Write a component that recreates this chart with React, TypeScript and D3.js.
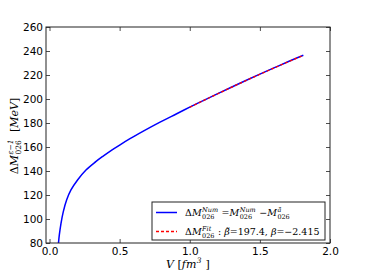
import React, { useEffect, useRef } from "react";
import * as d3 from "d3";

// numerical curve
const volume = [0.064, 0.07, 0.082, 0.098, 0.122, 0.153, 0.2, 0.26, 0.33, 0.38, 0.431, 0.503, 0.574, 0.669, 0.788, 0.907, 1.0, 1.1, 1.2, 1.3, 1.4, 1.5, 1.6, 1.7, 1.81];
const deltaM = [80, 86.7, 96.4, 106, 115.8, 124.2, 132.5, 140.8, 147.8, 152.2, 156.4, 161.8, 166.9, 173.2, 180.7, 187.7, 193.2, 198.9, 204.5, 210, 215.4, 220.7, 225.9, 231, 236.5];

// fit curve
const fitVolume = [1.0, 1.1, 1.2, 1.3, 1.4, 1.5, 1.6, 1.7, 1.81];
const fitDeltaM = [193.1, 198.8, 204.4, 209.9, 215.3, 220.6, 225.8, 230.9, 236.3];

const xTicks = [0.0, 0.5, 1.0, 1.5, 2.0];
const yTicks = [80, 100, 120, 140, 160, 180, 200, 220, 240, 260];

const W = 367, H = 273;
const margin = { top: 27, right: 37, bottom: 30, left: 46 };

type Piece = { t: string, i?: boolean, sup?: string, sub?: string };

// lay out a little piece of math text, returns its width
function drawMath( g: any, pieces: Piece[], size: number ) {
	let x = 0;
	const font = "'DejaVu Serif', 'Liberation Serif', serif";
	pieces.forEach( p => {
		const base = g.append( "text" )
			.attr( "x", x ).attr( "y", 0 )
			.attr( "font-family", font )
			.attr( "font-size", size )
			.attr( "font-style", p.i ? "italic" : "normal" )
			.attr( "fill", "#000" )
			.style( "white-space", "pre" )
			.text( p.t );
		x += ( base.node() as SVGTextElement ).getComputedTextLength();
		let w = 0;
		if ( p.sup ) {
			const s = g.append( "text" )
				.attr( "x", x + 0.5 ).attr( "y", -size * 0.42 )
				.attr( "font-family", font ).attr( "font-size", size * 0.68 )
				.attr( "font-style", "italic" ).attr( "fill", "#000" )
				.text( p.sup );
			w = Math.max( w, ( s.node() as SVGTextElement ).getComputedTextLength() );
		}
		if ( p.sub ) {
			const s = g.append( "text" )
				.attr( "x", x + 0.5 ).attr( "y", size * 0.3 )
				.attr( "font-family", font ).attr( "font-size", size * 0.68 )
				.attr( "font-style", "normal" ).attr( "fill", "#000" )
				.text( p.sub );
			w = Math.max( w, ( s.node() as SVGTextElement ).getComputedTextLength() );
		}
		x += w ? w + 1 : 0;
	});
	return x;
}

export default function App() {
	const ref = useRef<SVGSVGElement>( null );

	useEffect( () => {
		const svg = d3.select( ref.current );
		svg.selectAll( "*" ).remove();

		const width = W - margin.left - margin.right;
		const height = H - margin.top - margin.bottom;

		const x = d3.scaleLinear().domain( [ -0.025, 2.0 ] ).range( [ 0, width ] );
		const y = d3.scaleLinear().domain( [ 80, 260 ] ).range( [ height, 0 ] );

		const g = svg.append( "g" ).attr( "transform", `translate(${margin.left},${margin.top})` );

		svg.append( "defs" ).append( "clipPath" ).attr( "id", "plotclip" )
			.append( "rect" ).attr( "width", width ).attr( "height", height );

		const tickFont = "'DejaVu Sans', sans-serif";

		const styleAxis = ( a: any ) => {
			a.select( ".domain" ).remove();
			a.selectAll( "line" ).attr( "stroke", "#222" ).attr( "stroke-width", 0.8 );
			a.selectAll( "text" ).attr( "font-family", tickFont ).attr( "font-size", 10.5 ).attr( "fill", "#000" );
		};

		g.append( "g" ).attr( "transform", `translate(0,${height})` )
			.call( d3.axisBottom( x ).tickValues( xTicks ).tickFormat( d3.format( ".1f" ) ).tickSizeInner( -4 ).tickSizeOuter( 0 ).tickPadding( 5 ) )
			.call( styleAxis );
		g.append( "g" )
			.call( d3.axisTop( x ).tickValues( xTicks ).tickFormat( () => "" ).tickSizeInner( -4 ).tickSizeOuter( 0 ) )
			.call( styleAxis );
		g.append( "g" )
			.call( d3.axisLeft( y ).tickValues( yTicks ).tickFormat( d3.format( "d" ) ).tickSizeInner( -4 ).tickSizeOuter( 0 ).tickPadding( 3 ) )
			.call( styleAxis );
		g.append( "g" ).attr( "transform", `translate(${width},0)` )
			.call( d3.axisRight( y ).tickValues( yTicks ).tickFormat( () => "" ).tickSizeInner( -4 ).tickSizeOuter( 0 ) )
			.call( styleAxis );

		const line = d3.line<[number, number]>()
			.x( d => x( d[0] ) )
			.y( d => y( d[1] ) )
			.curve( d3.curveCatmullRom.alpha( 0.5 ) );

		g.append( "path" )
			.datum( volume.map( ( v, i ) => [ v, deltaM[i] ] as [number, number] ) )
			.attr( "clip-path", "url(#plotclip)" )
			.attr( "fill", "none" )
			.attr( "stroke", "#0000ff" )
			.attr( "stroke-width", 1.5 )
			.attr( "d", line );

		g.append( "path" )
			.datum( fitVolume.map( ( v, i ) => [ v, fitDeltaM[i] ] as [number, number] ) )
			.attr( "fill", "none" )
			.attr( "stroke", "#ff0000" )
			.attr( "stroke-width", 1.3 )
			.attr( "stroke-dasharray", "3,2" )
			.attr( "d", line );

		// frame
		g.append( "rect" )
			.attr( "width", width ).attr( "height", height )
			.attr( "fill", "none" ).attr( "stroke", "#222" ).attr( "stroke-width", 1 );

		// legend
		const leg = svg.append( "g" ).attr( "transform", "translate(152,202)" );
		leg.append( "rect" ).attr( "width", 173 ).attr( "height", 38 )
			.attr( "fill", "#fff" ).attr( "stroke", "#222" ).attr( "stroke-width", 1 );
		leg.append( "line" ).attr( "x1", 4 ).attr( "x2", 25 ).attr( "y1", 10.5 ).attr( "y2", 10.5 )
			.attr( "stroke", "#0000ff" ).attr( "stroke-width", 1.5 );
		leg.append( "line" ).attr( "x1", 4 ).attr( "x2", 25 ).attr( "y1", 29.5 ).attr( "y2", 29.5 )
			.attr( "stroke", "#ff0000" ).attr( "stroke-width", 1.3 ).attr( "stroke-dasharray", "3,2" );

		drawMath( leg.append( "g" ).attr( "transform", "translate(33,14)" ), [
			{ t: "Δ" }, { t: "M", i: true, sup: "Num", sub: "026" }, { t: " =" },
			{ t: "M", i: true, sup: "Num", sub: "026" }, { t: " −" }, { t: "M", i: true, sup: "ã", sub: "026" },
		], 9.5 );
		drawMath( leg.append( "g" ).attr( "transform", "translate(33,33)" ), [
			{ t: "Δ" }, { t: "M", i: true, sup: "Fit", sub: "026" }, { t: " : " },
			{ t: "β̃", i: true }, { t: "=197.4, " }, { t: "β", i: true }, { t: "=−2.415" },
		], 9.5 );

		// axis labels
		const xl = svg.append( "g" );
		const xw = drawMath( xl, [ { t: "V", i: true }, { t: " [" }, { t: "fm", i: true, sup: "3" }, { t: " ]" } ], 11 );
		xl.attr( "transform", `translate(${margin.left + width / 2 - xw / 2},268)` );

		const yl = svg.append( "g" );
		const yw = drawMath( yl, [ { t: "Δ" }, { t: "M", i: true, sup: "ε−1", sub: "026" }, { t: "  [" }, { t: "MeV", i: true }, { t: "]" } ], 11 );
		yl.attr( "transform", `translate(18,${136 + yw / 2}) rotate(-90)` );
	}, [] );

	return (
		<svg ref={ref} width={W} height={H} style={{ position: "absolute", left: 0, top: 0, background: "#fff" }}></svg>
	);
}
